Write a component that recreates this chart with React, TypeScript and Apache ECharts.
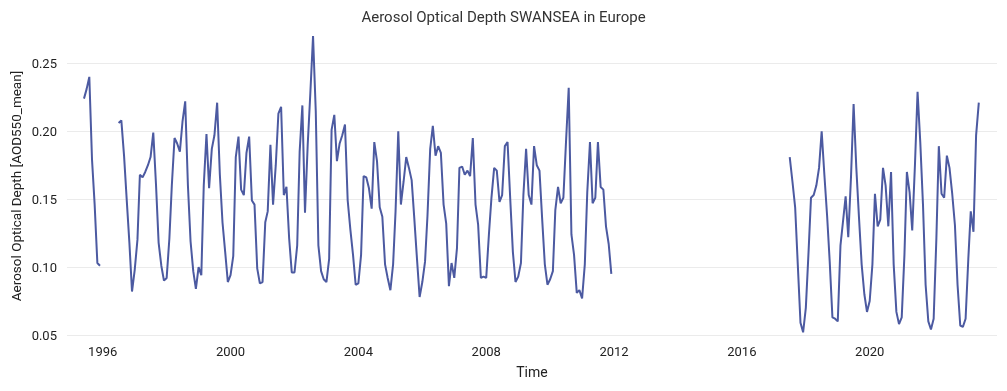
import React, { useEffect, useRef } from "react";
import * as echarts from "echarts";

const chartTitle = "Aerosol Optical Depth SWANSEA in Europe";
const xAxisTitle = "Time";
const yAxisTitle = "Aerosol Optical Depth [AOD550_mean]";
const tickYears = [1996, 2000, 2004, 2008, 2012, 2016, 2020];
const yTicks = [0.05, 0.1, 0.15, 0.2, 0.25];

// monthly means, segment 1: Jun 1995 - Dec 1995
const seg1Start = [1995, 6];
const seg1Values = [0.224, 0.231, 0.24, 0.179, 0.146, 0.103, 0.101];

// segment 2: Jul 1996 - Dec 2011
const seg2Start = [1996, 7];
const seg2Values = [
  0.206, 0.208, 0.182, 0.15, 0.118, 0.082,
  0.098, 0.12, 0.168, 0.166, 0.17, 0.175, 0.181, 0.199, 0.161, 0.118, 0.101, 0.09,
  0.092, 0.121, 0.16, 0.195, 0.191, 0.185, 0.207, 0.222, 0.16, 0.119, 0.097, 0.084,
  0.1, 0.094, 0.16, 0.198, 0.158, 0.187, 0.197, 0.221, 0.168, 0.133, 0.111, 0.089,
  0.094, 0.108, 0.181, 0.196, 0.157, 0.153, 0.184, 0.196, 0.149, 0.146, 0.099, 0.088,
  0.089, 0.133, 0.141, 0.19, 0.146, 0.175, 0.213, 0.218, 0.153, 0.159, 0.121, 0.096,
  0.096, 0.116, 0.185, 0.219, 0.14, 0.19, 0.228, 0.27, 0.215, 0.116, 0.097, 0.091,
  0.089, 0.106, 0.201, 0.212, 0.178, 0.191, 0.197, 0.205, 0.149, 0.128, 0.109, 0.087,
  0.088, 0.109, 0.167, 0.166, 0.158, 0.143, 0.192, 0.178, 0.144, 0.137, 0.102, 0.092,
  0.083, 0.102, 0.141, 0.2, 0.146, 0.163, 0.181, 0.173, 0.164, 0.136, 0.106, 0.078,
  0.089, 0.104, 0.138, 0.187, 0.204, 0.182, 0.189, 0.184, 0.146, 0.132, 0.086, 0.103,
  0.092, 0.114, 0.173, 0.174, 0.168, 0.171, 0.167, 0.195, 0.146, 0.131, 0.092, 0.093,
  0.092, 0.124, 0.151, 0.173, 0.171, 0.148, 0.153, 0.189, 0.192, 0.151, 0.111, 0.089,
  0.093, 0.103, 0.153, 0.187, 0.153, 0.146, 0.189, 0.175, 0.171, 0.136, 0.102, 0.087,
  0.091, 0.097, 0.142, 0.159, 0.147, 0.151, 0.192, 0.232, 0.124, 0.109, 0.081, 0.083,
  0.077, 0.102, 0.155, 0.192, 0.147, 0.151, 0.192, 0.159, 0.157, 0.13, 0.117, 0.095,
];

// segment 3: Jul 2017 - Jun 2023
const seg3Start = [2017, 7];
const seg3Values = [
  0.181, 0.163, 0.144, 0.102, 0.059, 0.052,
  0.07, 0.111, 0.151, 0.153, 0.16, 0.173, 0.2, 0.168, 0.138, 0.104, 0.063, 0.062,
  0.06, 0.116, 0.133, 0.152, 0.122, 0.166, 0.22, 0.173, 0.136, 0.102, 0.08, 0.067,
  0.075, 0.102, 0.154, 0.13, 0.135, 0.173, 0.16, 0.13, 0.17, 0.102, 0.067, 0.058,
  0.063, 0.109, 0.17, 0.155, 0.127, 0.175, 0.229, 0.192, 0.146, 0.087, 0.06, 0.054,
  0.062, 0.121, 0.189, 0.154, 0.151, 0.182, 0.173, 0.154, 0.131, 0.087, 0.057, 0.056,
  0.062, 0.106, 0.141, 0.126, 0.197, 0.221,
];

const segments = [
  { start: seg1Start, values: seg1Values },
  { start: seg2Start, values: seg2Values },
  { start: seg3Start, values: seg3Values },
];

function buildData() {
  const out: [number, number | null][] = [];
  segments.forEach((s, si) => {
    s.values.forEach((v, i) => {
      out.push([Date.UTC(s.start[0], s.start[1] - 1 + i, 1), v]);
    });
    if (si < segments.length - 1) {
      const n = s.values.length;
      out.push([Date.UTC(s.start[0], s.start[1] - 1 + n, 1), null]);
    }
  });
  return out;
}

export default function App() {
  const ref = useRef<HTMLDivElement>(null);
  useEffect(() => {
    if (!ref.current) return;
    const chart = echarts.init(ref.current, undefined, { renderer: "svg" });
    const gridLeft = 67;
    const gridRight = 10;
    const width = 1007;
    const t1996 = Date.UTC(1996, 0, 1);
    const t2020 = Date.UTC(2020, 0, 1);
    const px1996 = 102.7;
    const px2020 = 869.7;
    const pxPerMs = (px2020 - px1996) / (t2020 - t1996);
    const xMin = t1996 - (px1996 - gridLeft) / pxPerMs;
    const xMax = t1996 + (width - gridRight - px1996) / pxPerMs;
    const font = "Roboto";
    chart.setOption({
      animation: false,
      title: {
        text: chartTitle,
        left: "center",
        top: 4,
        textStyle: { fontFamily: font, fontSize: 15, fontWeight: "normal", color: "#333" },
      },
      grid: { left: gridLeft, right: gridRight, top: 63.3, bottom: 56 },
      xAxis: {
        type: "value",
        min: xMin,
        max: xMax,
        axisLine: { show: false },
        axisTick: { show: false },
        splitLine: { show: false },
        axisLabel: {
          customValues: tickYears.map((y) => Date.UTC(y, 0, 1)),
          formatter: (v: number) => String(new Date(v).getUTCFullYear()),
          margin: 10,
          color: "#222",
          fontSize: 13,
          fontFamily: font,
        },
        name: xAxisTitle,
        nameLocation: "middle",
        nameGap: 30,
        nameTextStyle: { fontFamily: font, fontSize: 14, color: "#222" },
      },
      yAxis: {
        type: "value",
        min: yTicks[0],
        max: yTicks[yTicks.length - 1],
        interval: 0.05,
        axisLine: { show: false },
        axisTick: { show: false },
        axisLabel: {
          formatter: (v: number) => v.toFixed(2),
          margin: 10,
          color: "#222",
          fontSize: 13,
          fontFamily: font,
        },
        splitLine: { lineStyle: { color: "#ebebeb", width: 1 } },
      },
      graphic: [
        {
          type: "text",
          x: 16,
          y: 186,
          rotation: Math.PI / 2,
          style: {
            text: yAxisTitle,
            align: "center",
            verticalAlign: "middle",
            fontFamily: font,
            fontSize: 13.5,
            fill: "#222",
          },
        },
      ],
      series: [
        {
          type: "line",
          data: buildData(),
          showSymbol: false,
          connectNulls: false,
          clip: false,
          lineStyle: { width: 2, color: "#4c5aa1" },
          itemStyle: { color: "#4c5aa1" },
        },
      ],
    });
    return () => chart.dispose();
  }, []);
  return (
    <div
      ref={ref}
      style={{ position: "fixed", left: 0, top: 0, width: 1007, height: 391 }}
    />
  );
}
